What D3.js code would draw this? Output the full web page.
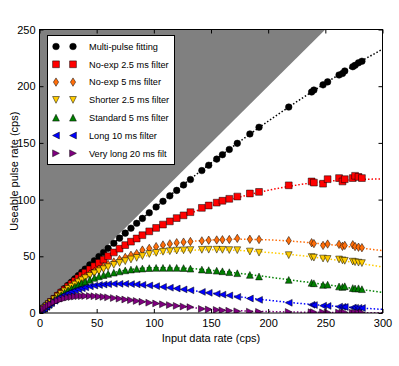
<!DOCTYPE html>
<html>
<head>
<meta charset="utf-8">
<script src="https://cdn.jsdelivr.net/npm/d3@7"></script>
<style>
  body { margin: 0; background: #fff; }
  text { font-family: "Liberation Sans", Arial, sans-serif; fill: #000; }
</style>
</head>
<body>
<svg id="chart" width="399" height="366"></svg>
<script>
// input rates of the measured runs (cps)
const inputRate = [2, 4, 6, 8, 10, 13, 16, 19, 22, 25, 28, 31, 34, 37, 40, 44, 48, 52, 56, 60,
  65, 70, 75, 80, 85, 90, 96, 102, 108, 114, 120, 126, 132, 142, 148, 155, 160, 166,
  173, 184, 192, 218, 238, 240, 248, 252, 262, 265, 267, 274, 276, 279, 282]

// useable pulse rate per method
const multiPulse = [2, 4, 6, 7.9, 9.9, 12.9, 15.8, 18.7, 21.6, 24.5, 27.3, 30.2, 33.0, 35.9, 38.7, 42.4, 46.1, 49.8, 53.4, 57.0,
  61.5, 66.0, 70.4, 74.8, 79.1, 83.4, 88.4, 93.5, 98.5, 103.3, 108.1, 112.9, 117.7, 125.6, 130.3, 135.7, 139.6, 144.2,
  149.6, 157.9, 163.8, 181.6, 194.9, 196.6, 201.2, 203.8, 209.9, 211.2, 213.4, 217.2, 218.4, 220.6, 222.0]
const noExp25 = [2.0, 4.0, 5.9, 7.8, 9.7, 12.5, 15.2, 17.9, 20.6, 23.2, 25.7, 28.3, 30.8, 33.1, 35.5, 38.4, 41.3, 44.2, 47.0, 50.1,
  53.4, 56.7, 59.9, 62.9, 65.7, 68.6, 72.0, 75.0, 78.0, 80.8, 83.7, 86.1, 88.9, 92.7, 94.8, 97.3, 99.0, 100.7,
  102.7, 105.4, 106.8, 112.6, 116, 115, 114, 118, 119, 116, 118, 119, 121, 120, 119]
const noExp5 = [2.0, 3.9, 5.8, 7.6, 9.4, 12.1, 14.6, 17.1, 19.4, 21.7, 23.8, 26.0, 28.0, 30.0, 31.9, 34.3, 36.5, 38.7, 40.8, 42.8,
  45.0, 47.2, 49.0, 50.9, 52.4, 55.5, 57.0, 58.5, 60.0, 61.0, 62.0, 62.5, 63.0, 63.6, 64.2, 64.4, 64.6, 64.8,
  65.8, 65.0, 64.8, 63.8, 62.0, 61.2, 59.6, 60.8, 60.5, 58.8, 59.6, 60.2, 58.6, 58.0, 57.6]
const shorter25 = [2.0, 3.9, 5.8, 7.6, 9.4, 11.9, 14.4, 16.7, 19.0, 21.2, 23.2, 25.1, 27.1, 28.9, 30.7, 32.8, 34.9, 36.8, 38.6, 40.4,
  42.4, 44.1, 45.7, 47.2, 48.6, 50.2, 52.0, 53.0, 54.0, 54.5, 55.0, 55.3, 55.5, 55.7, 55.8, 55.8, 55.7, 55.5,
  55.4, 54.2, 53.2, 51.0, 49.3, 48.8, 48.0, 47.6, 47.2, 46.4, 46.0, 45.3, 44.8, 44.4, 44.0]
const standard5 = [2.0, 3.9, 5.7, 7.4, 9.1, 11.5, 13.7, 15.8, 17.9, 19.9, 21.6, 23.3, 24.9, 26.4, 27.7, 29.3, 30.9, 32.3, 33.4, 34.5,
  35.6, 36.7, 37.6, 38.3, 38.9, 39.2, 39.6, 39.8, 39.8, 39.8, 39.8, 39.6, 39.1, 38.3, 37.8, 37.3, 36.8, 36.0,
  35.1, 33.6, 32.2, 29.2, 26.6, 26.2, 24.8, 25.0, 23.4, 23.0, 23.6, 22.0, 21.6, 21.8, 21.0]
const long10 = [1.9, 3.8, 5.5, 7.1, 8.7, 10.8, 12.7, 14.5, 16.1, 17.5, 18.8, 19.9, 20.9, 21.8, 22.6, 23.5, 24.2, 24.7, 25.1, 25.4,
  25.7, 25.7, 25.7, 25.5, 25.2, 24.8, 24.3, 23.7, 23.0, 22.3, 21.6, 20.8, 20.0, 18.6, 17.8, 16.9, 16.2, 15.5,
  14.2, 12.8, 11.6, 9.0, 7.2, 7.0, 6.4, 6.2, 5.6, 5.4, 5.3, 4.8, 4.6, 4.5, 4.4]
const veryLong20 = [1.9, 3.6, 5.2, 6.6, 7.8, 9.5, 10.8, 11.9, 12.8, 13.6, 14.1, 14.5, 14.8, 14.9, 15.0, 15.0, 14.8, 14.5, 14.2, 13.8,
  13.2, 12.6, 11.9, 11.3, 10.6, 9.9, 9.1, 8.4, 7.7, 7.0, 6.3, 5.7, 5.2, 3.6, 3.1, 2.7, 2.3, 2.0,
  1.5, 1.2, 1.0, 0.9, 0.7, 0.7, 0.6, 0.5, 0.4, 0.4, 0.4, 0.3, 0.3, 0.3, 0.3]

// fitted curves, read every 25 cps
const fitRate = [0, 25, 50, 75, 100, 125, 150, 175, 200, 225, 250, 275, 300]
const fitMulti = [0, 24.5, 47.9, 70.4, 91.9, 112.5, 132.2, 151.1, 169.1, 186.3, 202.6, 218.3, 232.6]
const fitNoExp25 = [0, 23.2, 43.0, 59.8, 73.8, 85.2, 94.6, 102.2, 108.2, 112.8, 116.0, 117.6, 118.2]
const fitNoExp5 = [0, 21.7, 37.9, 49.6, 57.6, 62.2, 64.4, 65.0, 64.5, 63.0, 60.7, 58.0, 55.0]
const fitShorter25 = [0, 21.2, 35.9, 45.7, 51.7, 54.8, 55.7, 55.1, 53.4, 51.0, 48.0, 44.6, 40.6]
const fitStandard5 = [0, 19.9, 31.6, 37.6, 39.9, 39.6, 37.7, 35.0, 31.8, 28.4, 25.1, 21.6, 18.2]
const fitLong10 = [0, 17.5, 24.5, 25.7, 23.9, 20.9, 17.6, 14.3, 11.3, 8.7, 6.6, 4.8, 3.2]
const fitVeryLong20 = [0, 13.6, 14.7, 11.9, 8.6, 5.6, 3.4, 2.0, 1.3, 0.8, 0.5, 0.3, 0.2]

const names = ['Multi-pulse fitting', 'No-exp 2.5 ms filter', 'No-exp 5 ms filter', 'Shorter 2.5 ms filter',
  'Standard 5 ms filter', 'Long 10 ms filter', 'Very long 20 ms filt']
const colors = ['#000000', '#ff0000', '#ff6e0a', '#ffcc00', '#008000', '#0000ff', '#800080']
const shapes = ['o', 's', 'd', 'v', '^', '<', '>']
const pointSets = [multiPulse, noExp25, noExp5, shorter25, standard5, long10, veryLong20]
const fitSets = [fitMulti, fitNoExp25, fitNoExp5, fitShorter25, fitStandard5, fitLong10, fitVeryLong20]

const xTicks = [0, 50, 100, 150, 200, 250, 300]
const yTicks = [0, 50, 100, 150, 200, 250]

const series = names.map((name, i) => ({
  name,
  color: colors[i],
  shape: shapes[i],
  points: inputRate.map((x, j) => [x, pointSets[i][j]]),
  fit: fitRate.map((x, j) => [x, fitSets[i][j]])
}))

const svg = d3.select('#chart')
const margin = { left: 39.5, right: 16.5, top: 29.5, bottom: 53 }
const width = +svg.attr('width')
const height = +svg.attr('height')

const x = d3.scaleLinear().domain([0, 300]).range([margin.left, width - margin.right])
const y = d3.scaleLinear().domain([0, 250]).range([height - margin.bottom, margin.top])

svg.append('defs').append('clipPath').attr('id', 'plot-clip')
  .append('rect')
  .attr('x', x(0)).attr('y', y(250))
  .attr('width', x(300) - x(0)).attr('height', y(0) - y(250))

const plot = svg.append('g').attr('clip-path', 'url(#plot-clip)')

// region above y = x is unreachable
plot.append('path')
  .datum([[0, 0], [250, 250], [0, 250]])
  .attr('fill', '#808080')
  .attr('d', d => 'M' + d.map(p => [x(p[0]), y(p[1])].join(',')).join('L') + 'Z')

function markerPath(shape) {
  const r = 3.4
  switch (shape) {
    case 'o': return d3.symbol(d3.symbolCircle, Math.PI * 3.3 * 3.3)()
    case 's': return `M${-r},${-r}H${r}V${r}H${-r}Z`
    case 'd': return `M0,${-4.2}L2.6,0L0,4.2L-2.6,0Z`
    case '^': return `M0,${-r}L${r},${r}L${-r},${r}Z`
    case 'v': return `M0,${r}L${r},${-r}L${-r},${-r}Z`
    case '<': return `M${-r},0L${r},${-r}L${r},${r}Z`
    case '>': return `M${r},0L${-r},${-r}L${-r},${r}Z`
  }
}

const line = d3.line()
  .x(d => x(d[0]))
  .y(d => y(d[1]))
  .curve(d3.curveMonotoneX)

series.forEach(s => {
  plot.append('path')
    .datum(s.fit)
    .attr('fill', 'none')
    .attr('stroke', s.color)
    .attr('stroke-width', 1.5)
    .attr('stroke-dasharray', '1.5,2')
    .attr('d', line)

  plot.append('g')
    .selectAll('path')
    .data(s.points)
    .join('path')
    .attr('transform', d => `translate(${x(d[0])},${y(d[1])})`)
    .attr('d', markerPath(s.shape))
    .attr('fill', s.color)
    .attr('stroke', '#000')
    .attr('stroke-width', 0.5)
})

// axes, ticks pointing inwards on all four sides
const tick = 4
svg.append('g')
  .attr('transform', `translate(0,${y(0)})`)
  .call(d3.axisBottom(x).tickValues(xTicks).tickSizeInner(-tick).tickSizeOuter(0).tickPadding(6))
svg.append('g')
  .attr('transform', `translate(0,${y(250)})`)
  .call(d3.axisTop(x).tickValues(xTicks).tickSizeInner(-tick).tickSizeOuter(0).tickFormat(''))
svg.append('g')
  .attr('transform', `translate(${x(0)},0)`)
  .call(d3.axisLeft(y).tickValues(yTicks).tickSizeInner(-tick).tickSizeOuter(0).tickPadding(4))
svg.append('g')
  .attr('transform', `translate(${x(300)},0)`)
  .call(d3.axisRight(y).tickValues(yTicks).tickSizeInner(-tick).tickSizeOuter(0).tickFormat(''))

svg.selectAll('.domain').remove()
svg.selectAll('.tick line').attr('stroke', '#000')
svg.selectAll('.tick text')
  .style('font-family', '"Liberation Sans", Arial, sans-serif')
  .style('font-size', '11px')
  .attr('fill', '#000')

svg.append('rect')
  .attr('x', x(0)).attr('y', y(250))
  .attr('width', x(300) - x(0)).attr('height', y(0) - y(250))
  .attr('fill', 'none')
  .attr('stroke', '#000')
  .attr('stroke-width', 1)

svg.append('text')
  .attr('x', (x(0) + x(300)) / 2)
  .attr('y', 342)
  .attr('text-anchor', 'middle')
  .style('font-size', '11px')
  .text('Input data rate (cps)')

svg.append('text')
  .attr('transform', `translate(18,${(y(0) + y(250)) / 2}) rotate(-90)`)
  .attr('text-anchor', 'middle')
  .style('font-size', '11px')
  .text('Useable pulse rate (cps)')

// legend
const legend = svg.append('g')
legend.append('rect')
  .attr('x', 47.5).attr('y', 35.5)
  .attr('width', 127).attr('height', 129)
  .attr('fill', '#fff')
  .attr('stroke', '#000')
  .attr('stroke-width', 1)

const rowY = i => 46.5 + i * 17.8
series.forEach((s, i) => {
  ;[56, 73].forEach(mx => {
    legend.append('path')
      .attr('transform', `translate(${mx},${rowY(i)})`)
      .attr('d', markerPath(s.shape))
      .attr('fill', s.color)
      .attr('stroke', '#000')
      .attr('stroke-width', 0.5)
  })
  legend.append('text')
    .attr('x', 89)
    .attr('y', rowY(i) + 3.2)
    .style('font-size', '9.2px')
    .text(s.name)
})
</script>
</body>
</html>
